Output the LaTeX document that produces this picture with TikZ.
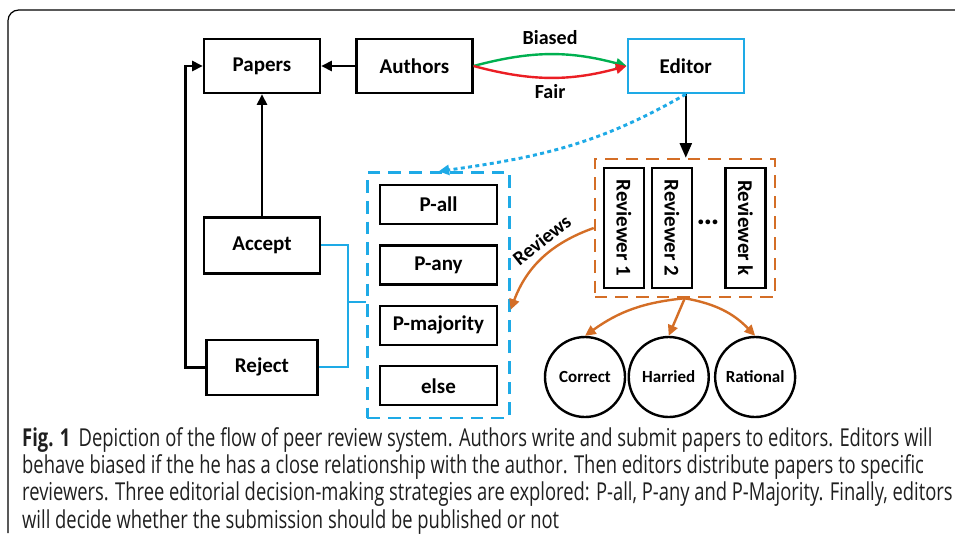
\documentclass[tikz,border=0pt]{standalone}
\usepackage{fontspec}
\setmainfont{Carlito}
\newfontfamily\capfont{Open Sans}
\usetikzlibrary{positioning, arrows.meta, fit}
\definecolor{skyblue}{RGB}{30,170,230}
\definecolor{biasgreen}{RGB}{0,176,80}
\definecolor{fairred}{RGB}{235,30,36}
\definecolor{revorange}{RGB}{212,110,38}

\begin{document}
\begin{tikzpicture}[
        x=0.75pt, y=-0.75pt,
        box/.style={rectangle, draw, line width=1.8pt, font=\bfseries\fontsize{15.75}{18}\selectfont, text centered, minimum width=87pt, minimum height=40.5pt},
        rulebox/.style={box, minimum width=87.75pt, minimum height=29.25pt},
        revbox/.style={box, rotate=-90, minimum width=90pt, minimum height=30pt, inner sep=0pt},
        kind/.style={circle, draw, line width=1.8pt, minimum size=60pt, inner sep=0pt, font=\bfseries\fontsize{12.75}{14}\selectfont},
        groupbox/.style={draw, line width=1.6pt, dash pattern=on 9.5pt off 6pt},
        arrow/.style={line width=1.8pt, -{Triangle[length=8pt, width=7.5pt]}},
        link/.style={line width=1.5pt, skyblue},
        lbl/.style={font=\bfseries\fontsize{15}{18}\selectfont}
    ]
    \useasboundingbox (0,0) rectangle (955,533);
    \draw[line width=0.9pt, rounded corners=8pt] (8,533) -- (8,10) -- (955,10);

    \node[box] (papers) at (262,66) {Papers};
    \node[box, right=25.5pt of papers] (authors) {Authors};
    \node[box, draw=skyblue, right=114.75pt of authors] (editor) {Editor};
    \node[box, below=91.5pt of papers, minimum height=42pt] (accept) {Accept};
    \node[box, below=48pt of accept, minimum width=83pt, minimum height=41.25pt] (reject) {Reject};

    \node[rulebox] (pall) at (438.5,204.5) {P-all};
    \node[rulebox, below=14.25pt of pall] (pany) {P-any};
    \node[rulebox, below=14.25pt of pany] (pmaj) {P-majority};
    \node[rulebox, below=14.25pt of pmaj] (pelse) {else};
    \node[groupbox, draw=skyblue, fit=(pall)(pelse), inner sep=8.5pt] (strat) {};

    \node[revbox] (rev1) at (624,228) {Reviewer 1};
    \node[revbox] (rev2) at (672,228) {Reviewer 2};
    \node[revbox] (revk) at (745.5,228) {Reviewer k};
    \node (dots) at (708,222) {\bfseries\fontsize{24}{24}\selectfont\dots};
    \node[groupbox, draw=revorange, fit=(rev1)(revk), inner sep=6pt] (revgroup) {};

    \node[kind] (correct) at (585,377) {Correct};
    \node[kind, right=1pt of correct] (harried) {Harried};
    \node[kind, right=3pt of harried] (rational) {Rational};

    \draw[arrow] (authors) -- (papers);
    \draw[arrow] (accept) -- (papers);
    \draw[arrow] (reject.west) -- ++(-20,0) |- (papers.west);
    \draw[arrow, biasgreen] (authors.east) to[bend left=15] node[lbl, above=3pt, text=black] {Biased} (editor.west);
    \draw[arrow, fairred] (authors.east) to[bend right=15] node[lbl, below=1pt, text=black] {Fair} (editor.west);
    \draw[arrow, -{Triangle[length=11pt, width=9pt]}] (editor.south) -- (editor.south |- revgroup.north);
    \draw[arrow, skyblue, line width=2.2pt, dash pattern=on 3pt off 2.5pt] (editor.south) to[out=-150, in=8] (strat.north);
    \draw[arrow, revorange] (revgroup.west) to[bend right=25] node[lbl, sloped, above=1pt, text=black, pos=0.4] {Reviews} ([yshift=-11pt]strat.east);
    \draw[arrow, revorange] (revgroup.south) to[bend right=15] (correct.north);
    \draw[arrow, revorange] (revgroup.south) -- (harried.north);
    \draw[arrow, revorange] (revgroup.south) to[bend left=18] (rational.north);

    \coordinate (junc) at (348,302);
    \draw[link] (accept.east) -| (junc) |- (reject.east);
    \draw[link] (junc) -- (junc -| strat.west);

    \node[anchor=north west, align=left, inner sep=0pt, xscale=0.745, text=black!88, font=\capfont\fontsize{18.5}{20.5}\selectfont] (caption) at (22,427) {\textbf{Fig. 1}\hspace{0.45em}Depiction of the flow of peer review system. Authors write and submit papers to editors. Editors will\\
    behave biased if the he has a close relationship with the author. Then editors distribute papers to specific\\
    reviewers. Three editorial decision-making strategies are explored: P-all, P-any and P-Majority. Finally, editors\\
    will decide whether the submission should be published or not};
\end{tikzpicture}
\end{document}
